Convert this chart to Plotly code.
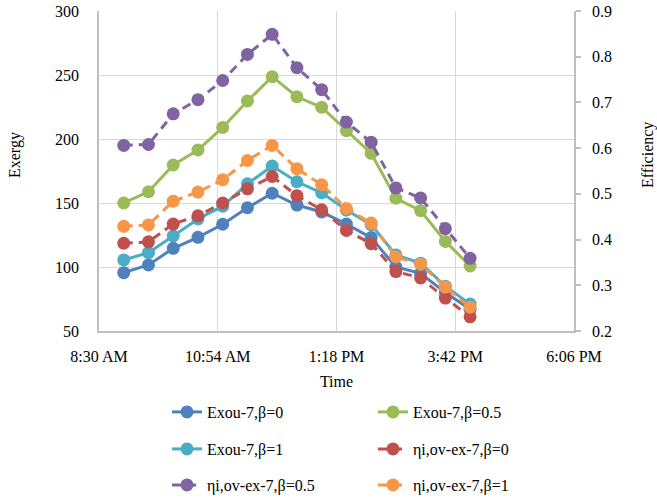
import plotly.graph_objects as go

# ---------------- data ----------------
times = ["2023-01-01 09:00", "2023-01-01 09:30", "2023-01-01 10:00", "2023-01-01 10:30",
         "2023-01-01 11:00", "2023-01-01 11:30", "2023-01-01 12:00", "2023-01-01 12:30",
         "2023-01-01 13:00", "2023-01-01 13:30", "2023-01-01 14:00", "2023-01-01 14:30",
         "2023-01-01 15:00", "2023-01-01 15:30", "2023-01-01 16:00"]

exou_b0 = [95.6, 101.6, 114.6, 123.2, 133.4, 146.3, 157.6, 148.4, 143.0, 133.5, 123.0, 100.0, 95.0, 80.0, 67.0]
exou_b05 = [150.0, 158.8, 179.7, 191.4, 209.0, 229.7, 248.7, 233.0, 224.8, 206.5, 188.8, 153.7, 144.0, 120.0, 100.8]
exou_b1 = [105.5, 111.2, 124.2, 137.5, 147.5, 165.0, 178.9, 166.6, 158.0, 144.5, 133.0, 109.4, 103.0, 85.0, 71.0]
eta_b0 = [0.392, 0.395, 0.434, 0.452, 0.480, 0.511, 0.538, 0.496, 0.465, 0.420, 0.391, 0.330, 0.316, 0.272, 0.231]
eta_b05 = [0.606, 0.608, 0.675, 0.706, 0.748, 0.805, 0.849, 0.776, 0.728, 0.657, 0.613, 0.513, 0.491, 0.424, 0.359]
eta_b1 = [0.429, 0.432, 0.484, 0.504, 0.531, 0.573, 0.606, 0.555, 0.520, 0.468, 0.436, 0.362, 0.346, 0.296, 0.252]

series_names = ["Exou-7,β=0", "Exou-7,β=0.5", "Exou-7,β=1",
                "ηi,ov-ex-7,β=0", "ηi,ov-ex-7,β=0.5", "ηi,ov-ex-7,β=1"]

x_tick_vals = ["2023-01-01 08:30", "2023-01-01 10:54", "2023-01-01 13:18",
               "2023-01-01 15:42", "2023-01-01 18:06"]
x_tick_text = ["8:30 AM", "10:54 AM", "1:18 PM", "3:42 PM", "6:06 PM"]
x_range = ["2023-01-01 08:30", "2023-01-01 18:06"]

# ---------------- style ----------------
FONT = "Liberation Serif, Times New Roman, serif"
FS = 16
colors = ["#4F81BD", "#9BBB59", "#4BACC6", "#C0504D", "#8064A2", "#F79646"]
GRID = "#D9D9D9"
AXIS = "#BFBFBF"

fig = go.Figure()

values = [exou_b0, exou_b05, exou_b1, eta_b0, eta_b05, eta_b1]
axes = ["y", "y", "y", "y2", "y2", "y2"]
dashes = ["solid", "solid", "solid", "9px,6px", "9px,6px", "9px,6px"]
legend_ids = ["legend", "legend2", "legend3", "legend4", "legend5", "legend6"]

for i in range(6):
    fig.add_trace(go.Scatter(
        x=times, y=values[i], name=series_names[i], yaxis=axes[i],
        mode="lines+markers",
        line=dict(color=colors[i], width=3, dash=dashes[i]),
        marker=dict(color=colors[i], size=13, line=dict(width=0)),
        legend=legend_ids[i],
    ))

plot_l, plot_r, plot_t, plot_b = 99, 574, 11, 331
pw, ph = plot_r - plot_l, plot_b - plot_t


def px_x(p):
    return (p - plot_l) / pw


def px_y(p):
    return (plot_b - p) / ph


# legend positions (px): 3 rows x 2 cols
leg_pos = [(167, 412), (373, 412), (167, 449), (373, 449), (167, 485), (373, 485)]
legend_layout = {}
for i, lid in enumerate(legend_ids):
    lx, ly = leg_pos[i]
    legend_layout[lid] = dict(
        x=px_x(lx), y=px_y(ly), xanchor="left", yanchor="middle",
        orientation="h", bgcolor="rgba(0,0,0,0)",
        font=dict(family=FONT, size=FS, color="#000000"),
        itemwidth=30,
    )

fig.update_layout(
    width=657, height=501,
    margin=dict(l=plot_l, r=657 - plot_r, t=plot_t, b=501 - plot_b, autoexpand=False),
    paper_bgcolor="white", plot_bgcolor="white",
    font=dict(family=FONT, size=FS, color="#000000"),
    showlegend=True,
    xaxis=dict(
        type="date", range=x_range,
        tickvals=x_tick_vals, ticktext=x_tick_text,
        showgrid=True, gridcolor=GRID, gridwidth=1.3,
        showline=True, linecolor=AXIS, linewidth=1.5,
        ticks="", ticklabelstandoff=10,
        zeroline=False, automargin=False,
        title=dict(text="Time", font=dict(family=FONT, size=FS), standoff=12),
    ),
    yaxis=dict(
        range=[50, 300], dtick=50, tick0=50,
        showgrid=True, gridcolor=GRID, gridwidth=1.3,
        showline=True, linecolor=AXIS, linewidth=1.5,
        ticks="", ticklabelstandoff=15,
        zeroline=False, automargin=False,
    ),
    yaxis2=dict(
        range=[0.2, 0.9], dtick=0.1, tick0=0.2,
        overlaying="y", side="right",
        showgrid=False,
        showline=True, linecolor=AXIS, linewidth=1.5,
        ticks="outside", ticklen=5, tickcolor=AXIS, tickwidth=1.5,
        ticklabelstandoff=8,
        zeroline=False, automargin=False,
    ),
    **legend_layout,
)

fig.add_annotation(text="Exergy", x=px_x(15), y=px_y(155), xref="paper", yref="paper",
                   xanchor="center", yanchor="middle",
                   showarrow=False, textangle=-90,
                   font=dict(family=FONT, size=FS, color="#000000"))
fig.add_annotation(text="Efficiency", x=px_x(648), y=px_y(155), xref="paper", yref="paper",
                   xanchor="center", yanchor="middle",
                   showarrow=False, textangle=-90,
                   font=dict(family=FONT, size=FS, color="#000000"))

fig.write_html("out.html")
